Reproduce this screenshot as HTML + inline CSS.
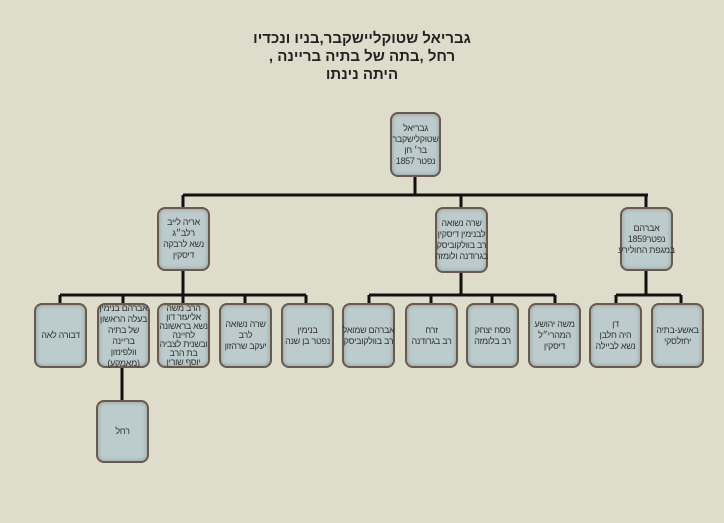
<!DOCTYPE html>
<html><head><meta charset="utf-8"><style>
body{margin:0;width:724px;height:523px;background:#deddcc;overflow:hidden;position:relative;font-family:"Liberation Sans","DejaVu Sans",sans-serif}
.t{position:absolute;left:0;width:724px;top:30px;text-align:center;direction:rtl;font-weight:bold;font-size:15px;line-height:18px;color:#222}
.b{position:absolute;background:#bccbcb;border:2px solid #6a5a4a;border-radius:8px;box-sizing:border-box;display:flex;align-items:center;justify-content:center;text-align:center;direction:rtl;font-size:9px;line-height:11px;color:#333;box-shadow:inset 0 0 4px #8a9a9a;white-space:nowrap;letter-spacing:-0.3px}
.b span{display:block}
svg{position:absolute;left:0;top:0}
</style></head><body>
<div class="t">גבריאל שטוקליישקבר,בניו ונכדיו<br>רחל ,בתה של בתיה ברײנה ,<br>היתה נינתו</div>
<svg width="724" height="523"><g stroke="#111" stroke-width="3" fill="none">
<path d="M415 176V195M183 195H648M183 195V207M461 195V207M646 195V207"/>
<path d="M183 270V295M60 295H306M60 295V303M123 295V303M183 295V303M245 295V303M306 295V303"/>
<path d="M461 272V295M369 295H555M369 295V303M431 295V303M492 295V303M555 295V303"/>
<path d="M646 270V295M616 295H681M616 295V303M681 295V303"/>
<path d="M122 367V400"/></g></svg>
<div class="b" style="left:390px;top:112px;width:51px;height:65px"><div>גבריאל<br>שטוקלישקבר<br>בר׳ חן<br>נפטר 1857</div></div>
<div class="b" style="left:157px;top:207px;width:53px;height:64px"><div>אריה לייב<br>רלב״ג<br>נשא לרבקה<br>דיסקין</div></div>
<div class="b" style="left:435px;top:207px;width:53px;height:66px"><div>שרה נשואה<br>לבנימין דיסקין<br>רב בוולקוביסק<br>בגרודנה ולומזה</div></div>
<div class="b" style="left:620px;top:207px;width:53px;height:64px"><div>אברהם<br>נפטר1859<br>במגפת החולירע</div></div>
<div class="b" style="left:34px;top:303px;width:53px;height:65px"><div>דבורה לאה</div></div>
<div class="b" style="left:97px;top:303px;width:53px;height:65px"><div>אברהם בנימין<br>בעלה הראשון<br>של בתיה<br>ברײנה<br>וולפינזון<br>(מאמקע)</div></div>
<div class="b" style="left:157px;top:303px;width:53px;height:65px;line-height:9px"><div>הרב משה<br>אליעזר דון<br>נשא בראשונה<br>לחיינה<br>ובשנית לצביה<br>בת הרב<br>יוסף שורין</div></div>
<div class="b" style="left:219px;top:303px;width:53px;height:65px"><div>שרה נשואה<br>לרב<br>יעקב שרהזון</div></div>
<div class="b" style="left:281px;top:303px;width:53px;height:65px"><div>בנימין<br>נפטר בן שנה</div></div>
<div class="b" style="left:342px;top:303px;width:53px;height:65px"><div>אברהם שמואל<br>רב בוולקוביסק</div></div>
<div class="b" style="left:405px;top:303px;width:53px;height:65px"><div>זרח<br>רב בגרודנה</div></div>
<div class="b" style="left:466px;top:303px;width:53px;height:65px"><div>פסח יצחק<br>רב בלומזה</div></div>
<div class="b" style="left:528px;top:303px;width:53px;height:65px"><div>משה יהושע<br>המהרי״ל<br>דיסקין</div></div>
<div class="b" style="left:589px;top:303px;width:53px;height:65px"><div>דן<br>היה חלבן<br>נשא לביילה</div></div>
<div class="b" style="left:651px;top:303px;width:53px;height:65px"><div>באשע-בתיה<br>יחזלסקי</div></div>
<div class="b" style="left:96px;top:400px;width:53px;height:63px"><div>רחל</div></div>
</body></html>
